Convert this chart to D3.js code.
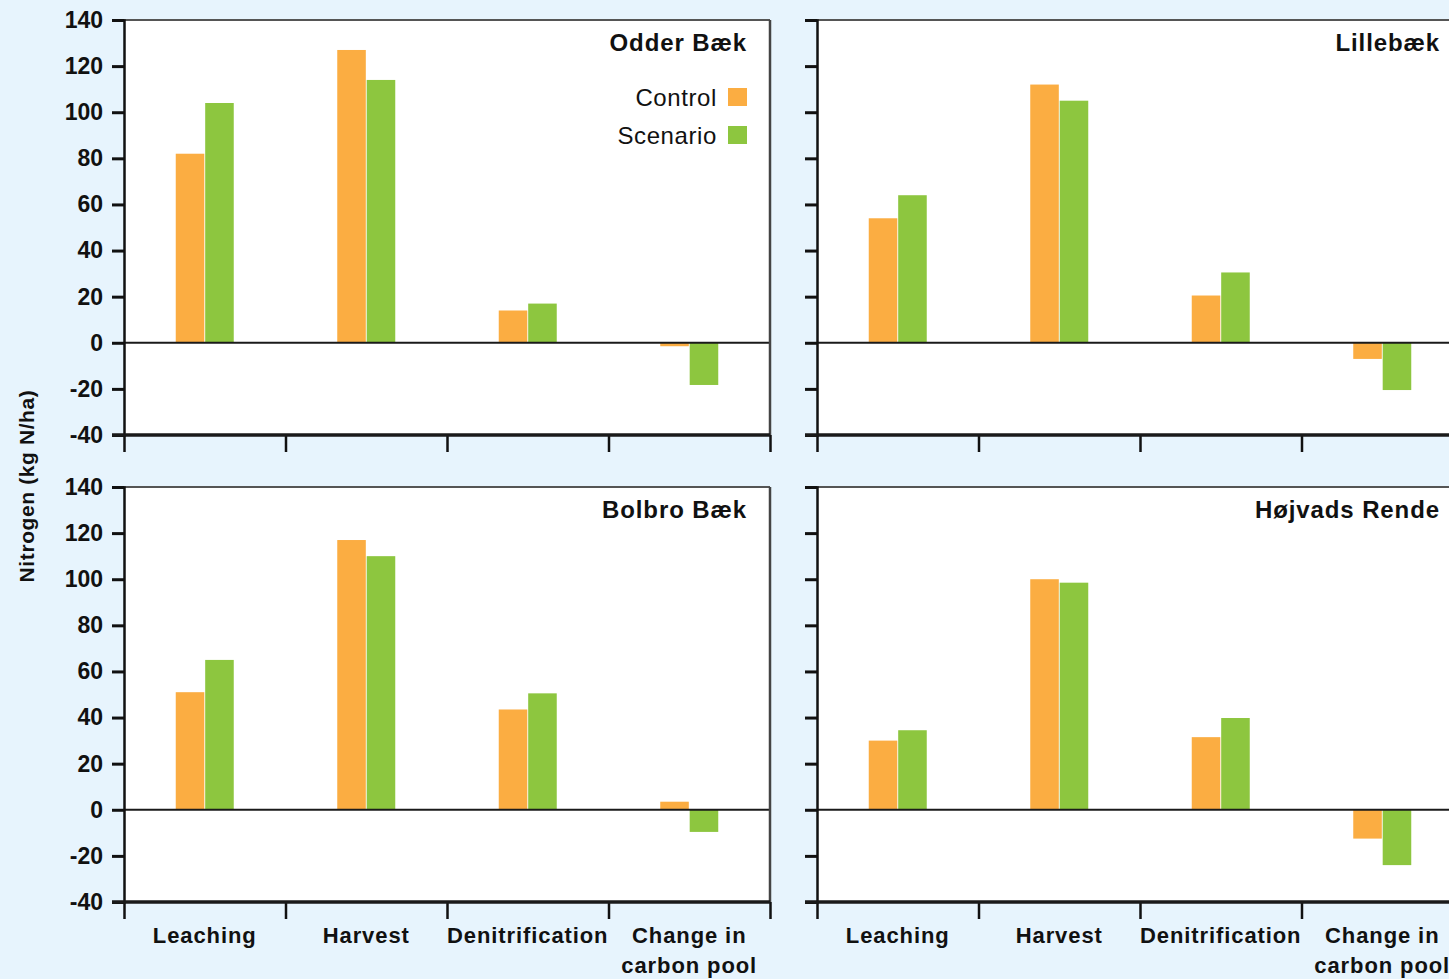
<!DOCTYPE html>
<html>
<head>
<meta charset="utf-8">
<script src="https://cdn.jsdelivr.net/npm/d3@7"></script>
<style>
  html, body { margin: 0; padding: 0; background: #e7f4fd; }
  svg { display: block; }
  text { font-family: "Liberation Sans", Arial, Helvetica, sans-serif; fill: #111; }
</style>
</head>
<body>
<svg id="chart" width="1449" height="979"></svg>
<script>
// Nitrogen balance terms per catchment (kg N/ha)
const categories = ["Leaching", "Harvest", "Denitrification", "Change in carbon pool"];
const categoryLines = [["Leaching"], ["Harvest"], ["Denitrification"], ["Change in", "carbon pool"]];
const seriesNames = ["Control", "Scenario"];
const seriesColors = ["#fbad42", "#8dc63f"];
const yTicks = [-40, -20, 0, 20, 40, 60, 80, 100, 120, 140];

const catchments = ["Odder Bæk", "Lillebæk", "Bolbro Bæk", "Højvads Rende"];
const controlValues = [
  [82, 127, 14, -1.5],
  [54, 112, 20.5, -7],
  [51, 117, 43.5, 3.5],
  [30, 100, 31.5, -12.5]
];
const scenarioValues = [
  [104, 114, 17, -18.3],
  [64, 105, 30.5, -20.5],
  [65, 110, 50.5, -9.6],
  [34.5, 98.5, 39.8, -24]
];

const svg = d3.select("#chart");
const panelW = 646, panelH = 415;
const origins = [[124, 20], [817, 20], [124, 487], [817, 487]];

const y = d3.scaleLinear().domain([-40, 140]).range([panelH, 0]);
const x0 = d3.scaleBand().domain(categories).range([0, panelW]);
const x1 = d3.scaleBand().domain(seriesNames).range([-29, 29]).paddingInner(0.03);
const xEdge = d3.scaleLinear().domain([0, categories.length]).range([0, panelW]);

catchments.forEach((name, p) => {
  const [ox, oy] = origins[p];
  const col = p % 2, row = Math.floor(p / 2);
  const g = svg.append("g").attr("transform", `translate(${ox},${oy})`);

  // white plotting area with top border
  g.append("rect").attr("x", 0).attr("y", 0).attr("width", panelW).attr("height", panelH)
    .attr("fill", "#fff");
  g.append("line").attr("x1", 0).attr("x2", panelW).attr("y1", 0).attr("y2", 0)
    .attr("stroke", "#555").attr("stroke-width", 2);

  // bars
  const rows = categories.map((c, i) => ({ cat: c, vals: [controlValues[p][i], scenarioValues[p][i]] }));
  const grp = g.selectAll("g.cat").data(rows).join("g")
    .attr("transform", d => `translate(${x0(d.cat) + x0.bandwidth() / 2},0)`);
  grp.selectAll("rect").data(d => d.vals.map((v, k) => ({ v, s: seriesNames[k], k }))).join("rect")
    .attr("x", d => x1(d.s))
    .attr("width", x1.bandwidth())
    .attr("y", d => y(Math.max(0, d.v)))
    .attr("height", d => Math.abs(y(d.v) - y(0)))
    .attr("fill", d => seriesColors[d.k]);

  // zero line
  g.append("line").attr("x1", 0).attr("x2", panelW).attr("y1", y(0)).attr("y2", y(0))
    .attr("stroke", "#1a1a1a").attr("stroke-width", 2);

  // right border
  g.append("line").attr("x1", panelW).attr("x2", panelW).attr("y1", 0).attr("y2", panelH)
    .attr("stroke", "#444").attr("stroke-width", 2.5);

  // y axis (plain hyphen for negative values)
  const ya = g.append("g").call(
    d3.axisLeft(y).tickValues(yTicks).tickSize(12).tickPadding(9)
      .tickFormat(col === 0 ? (d => String(d)) : () => "")
  );
  ya.select(".domain").attr("stroke", "#111").attr("stroke-width", 2.5);
  ya.selectAll(".tick line").attr("stroke", "#111").attr("stroke-width", 3);
  ya.selectAll(".tick text").style("font-size", "23px").style("font-weight", "bold")
    .style("font-family", "'Liberation Sans', Arial, sans-serif").attr("fill", "#111");

  // x axis with ticks at category boundaries
  const xa = g.append("g").attr("transform", `translate(0,${panelH})`).call(
    d3.axisBottom(xEdge).tickValues(d3.range(categories.length + 1)).tickSize(17).tickFormat(() => "")
  );
  xa.select(".domain").remove();
  xa.selectAll(".tick line").attr("stroke", "#111").attr("stroke-width", 2.5);
  g.append("line").attr("x1", -12).attr("x2", panelW).attr("y1", panelH).attr("y2", panelH)
    .attr("stroke", "#1a1a1a").attr("stroke-width", 3.5);

  // category labels on the lower row
  if (row === 1) {
    const lab = g.selectAll("text.cat").data(categories).join("text")
      .attr("class", "cat")
      .attr("text-anchor", "middle")
      .attr("x", d => x0(d) + x0.bandwidth() / 2)
      .attr("y", panelH + 41)
      .style("font-size", "22px").style("font-weight", "bold").style("letter-spacing", "0.9px");
    lab.selectAll("tspan").data((d, i) => categoryLines[i]).join("tspan")
      .attr("x", function () { return d3.select(this.parentNode).attr("x"); })
      .attr("dy", (d, i) => i === 0 ? 0 : 30)
      .text(d => d);
  }

  // catchment title
  g.append("text").attr("x", panelW - 23).attr("y", 31).attr("text-anchor", "end")
    .style("font-size", "24px").style("font-weight", "bold").style("letter-spacing", "0.9px")
    .text(name);

  // legend in the first panel
  if (p === 0) {
    seriesNames.forEach((s, k) => {
      const ly = 78 + k * 38;
      g.append("rect").attr("x", panelW - 42).attr("y", ly - 10).attr("width", 19).attr("height", 18)
        .attr("fill", seriesColors[k]);
      g.append("text").attr("x", panelW - 53).attr("y", ly + 8).attr("text-anchor", "end")
        .style("font-size", "24px").style("letter-spacing", "0.6px").text(s);
    });
  }
});

// shared y axis title
svg.append("text")
  .attr("transform", "translate(34,486) rotate(-90)")
  .attr("text-anchor", "middle")
  .style("font-size", "21px").style("font-weight", "bold").style("letter-spacing", "0.6px")
  .text("Nitrogen (kg N/ha)");
</script>
</body>
</html>
